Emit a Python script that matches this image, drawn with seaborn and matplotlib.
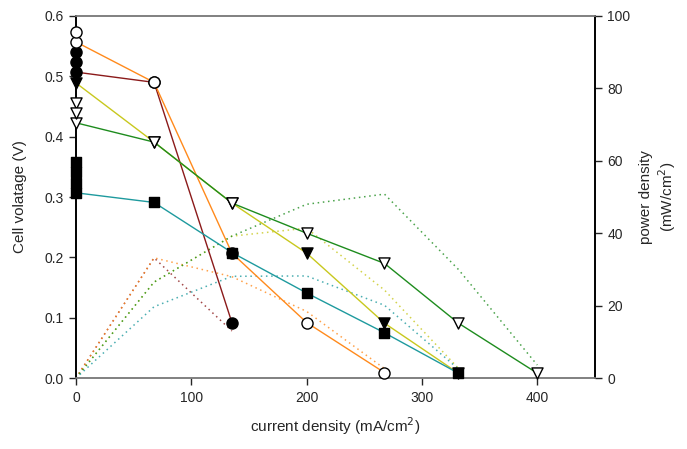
import matplotlib
matplotlib.use("Agg")
import matplotlib.pyplot as plt
import seaborn as sns

# ---------------- data ----------------
current = [0, 67.7, 135.2, 200, 267.5, 331.6, 400]

# cell voltage curves (V)
v_maroon = [0.507, 0.490, 0.092]
v_orange = [0.557, 0.490, 0.207, 0.092, 0.009]
v_yellow = [0.489, 0.391, 0.290, 0.207, 0.091, 0.008]
v_green = [0.423, 0.391, 0.290, 0.240, 0.190, 0.091, 0.008]
v_teal = [0.307, 0.291, 0.208, 0.141, 0.075, 0.008]

# extra open-circuit voltage readings at zero current (V)
ocv_maroon = [0.540, 0.524]
ocv_orange = [0.573]
ocv_green = [0.456, 0.439]
ocv_teal = [0.3585, 0.341, 0.324]

# power density curves (mW/cm2)
p_maroon = [0, 33.2, 13.0]
p_orange = [0, 33.2, 28.0, 18.4, 2.6]
p_yellow = [0, 26.5, 39.2, 41.4, 24.3, 2.7]
p_green = [0, 26.5, 39.2, 48.0, 50.8, 30.0, 3.6]
p_teal = [0, 19.7, 28.1, 28.2, 20.1, 2.5]

x_ticks = [0, 100, 200, 300, 400]
y_ticks = [0.0, 0.1, 0.2, 0.3, 0.4, 0.5, 0.6]
p_ticks = [0, 20, 40, 60, 80, 100]

# ---------------- style ----------------
sns.set_style("ticks")
plt.rcParams["font.family"] = ["Liberation Sans", "DejaVu Sans"]
plt.rcParams["font.size"] = 10

col = {
    "maroon": "#8b1a1a",
    "orange": "#ff8a1c",
    "yellow": "#c8c81e",
    "green": "#1e8c1e",
    "teal": "#1e9a9e",
}
msize = {"o": 64, "v": 64, "s": 46}

fig = plt.figure(figsize=(6.87, 4.49), dpi=100)
ax = fig.add_axes([0.1106, 0.158, 0.7554, 0.8064])
ax2 = ax.twinx()

series = [
    ("maroon", v_maroon, p_maroon, "o", "black", ocv_maroon),
    ("orange", v_orange, p_orange, "o", "white", ocv_orange),
    ("yellow", v_yellow, p_yellow, "v", "black", []),
    ("green", v_green, p_green, "v", "white", ocv_green),
    ("teal", v_teal, p_teal, "s", "black", ocv_teal),
]

# power density (dotted) on right axis
for name, v, p, m, fc, ocv in series:
    sns.lineplot(x=current[:len(p)], y=p, ax=ax2, color=col[name],
                 linewidth=1.1, linestyle=(0, (1, 2.4)), sort=False,
                 estimator=None, alpha=0.8)

# voltage curves (solid) on left axis
for name, v, p, m, fc, ocv in series:
    sns.lineplot(x=current[:len(v)], y=v, ax=ax, color=col[name],
                 linewidth=1.0, sort=False, estimator=None, zorder=2)

# markers
for name, v, p, m, fc, ocv in series:
    xs = current[:len(v)] + [0] * len(ocv)
    ys = v + ocv
    sns.scatterplot(x=xs, y=ys, ax=ax, marker=m, s=msize[m], color=fc,
                    edgecolor="black", linewidth=1.0, zorder=4, legend=False,
                    clip_on=False)

ax.set_xlim(0, 450)
ax.set_ylim(0, 0.6)
ax.set_xticks(x_ticks)
ax.set_yticks(y_ticks)
ax.set_yticklabels([f"{t:.1f}" for t in y_ticks])
ax2.set_ylim(0, 100)
ax2.set_yticks(p_ticks)

ax.set_zorder(ax2.get_zorder() + 1)
ax.patch.set_visible(False)

for a in (ax, ax2):
    a.spines["top"].set_color("#808080")
    a.spines["bottom"].set_color("#808080")
    a.spines["left"].set_color("black")
    a.spines["right"].set_color("black")
    a.spines["top"].set_visible(True)
    a.spines["right"].set_visible(True)
    for s in a.spines.values():
        s.set_linewidth(1.2)
    a.tick_params(direction="out", length=5, width=1, labelsize=10, pad=4)

ax.set_xlabel("current density (mA/cm$^2$)", fontsize=11, labelpad=8)
ax.set_ylabel("Cell volatage (V)", fontsize=11, labelpad=12)
ax2.set_ylabel("power density\n(mW/cm$^2$)", fontsize=11, labelpad=6)

fig.savefig("out.png", dpi=100)
